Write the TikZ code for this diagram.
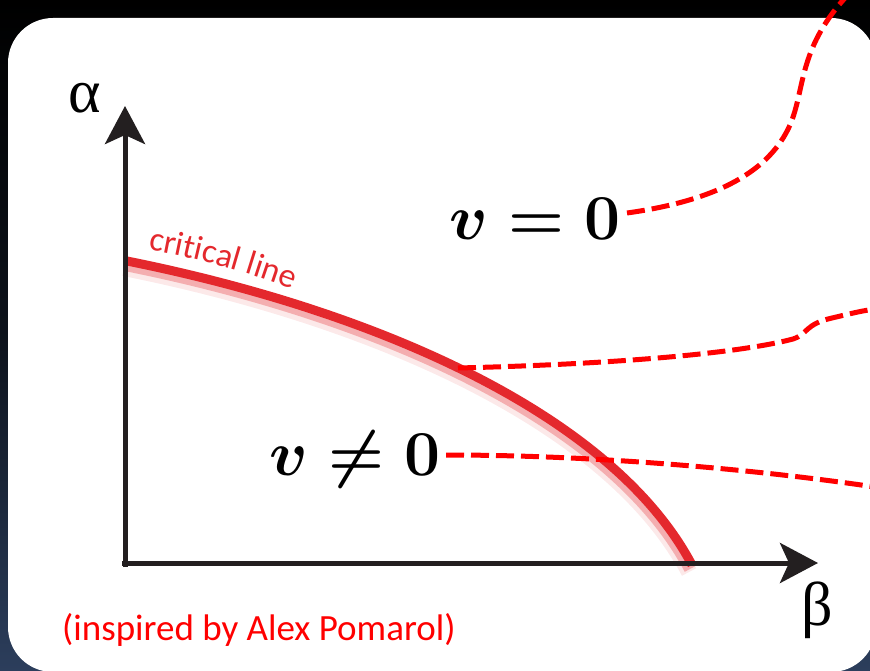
\RequirePackage{fix-cm}
\documentclass[tikz,border=0pt]{standalone}
\usepackage{amsmath,amssymb}
\usepackage{fontspec}
\setmainfont{Liberation Serif}
\newfontfamily\calib{Carlito}
\usetikzlibrary{arrows.meta,decorations.text}
\definecolor{navy}{RGB}{44,62,92}
\definecolor{axisgray}{RGB}{35,31,32}
\definecolor{critred}{RGB}{228,40,45}
\definecolor{dashred}{RGB}{255,0,0}
\tikzset{
  axis/.style={line width=5pt, draw=axisgray, -{Stealth[length=38pt,width=40pt,inset=9pt]}},
  reddash/.style={draw=dashred, line width=5pt, dash pattern=on 18pt off 7pt},
  mathlbl/.style={inner sep=0pt, font=\fontsize{64}{70}\selectfont\boldmath},
  axlbl/.style={inner sep=0pt, font=\fontsize{62}{68}\selectfont},
}
\begin{document}
\begin{tikzpicture}[x=1pt,y=-1pt]
\useasboundingbox (0,0) rectangle (870,671);
% background
\shade[top color=black, bottom color=navy, middle color=black!70!navy] (0,0) rectangle (870,671);
\fill[white, rounded corners=45pt] (8,18) rectangle (876,672);
% critical line (glow)
\def\critpath{(127,261) .. controls (377,311) and (613,415) .. (692,565)}
\draw[critred, line width=16pt, opacity=0.10, shift={(-3,7)}] \critpath;
\draw[critred, line width=12pt, opacity=0.3, shift={(-2,4)}] \critpath;
\draw[critred, line width=9pt] \critpath;
% axes
\coordinate (o) at (125,563);
\coordinate (ytip) at (125,106);
\coordinate (xtip) at (818,563);
\coordinate (ybot) at (125,567);
\coordinate (xleft) at (122,563);
\draw[axis] (ybot) -- (ytip);
\draw[axis] (xleft) -- (xtip);
\node[axlbl, anchor=base] (alpha) at (85,113) {α};
\node[axlbl, anchor=base] (beta) at (817,625) {β};
% labels
\node[mathlbl, anchor=base east] (v0) at (621,240) {$v = 0$};
\node[mathlbl, anchor=base east] (vn0) at (441,475) {$v \neq 0$};
\path[decorate, decoration={text along path, text color=critred,
  text={|\calib\fontsize{34}{36}\selectfont|critical line}}]
  (148,250) .. controls (200,259) and (250,272) .. (315,298);
\node[inner sep=0pt, anchor=base west, text=dashred, font=\calib\fontsize{37}{40}\selectfont] (insp) at (62,640) {(inspired by Alex Pomarol)};
% dashed connectors
\coordinate (s1) at (627,213);
\coordinate (s3) at (446,455);
\coordinate (top) at (845,-2);
\coordinate (m1) at (790,125);
\coordinate (mid) at (458,368);
\coordinate (r2) at (875,309);
\coordinate (r3) at (875,487);
\draw[reddash] (s1) .. controls (720,200) and (770,170) .. (m1) .. controls (805,90) and (798,50) .. (top);
\draw[reddash] (mid) .. controls (620,364) and (740,353) .. (793,339) .. controls (808,334) and (805,324) .. (832,318) .. controls (845,315) and (860,311) .. (r2);
\draw[reddash] (s3) .. controls (600,455) and (760,470) .. (r3);
\end{tikzpicture}
\end{document}
